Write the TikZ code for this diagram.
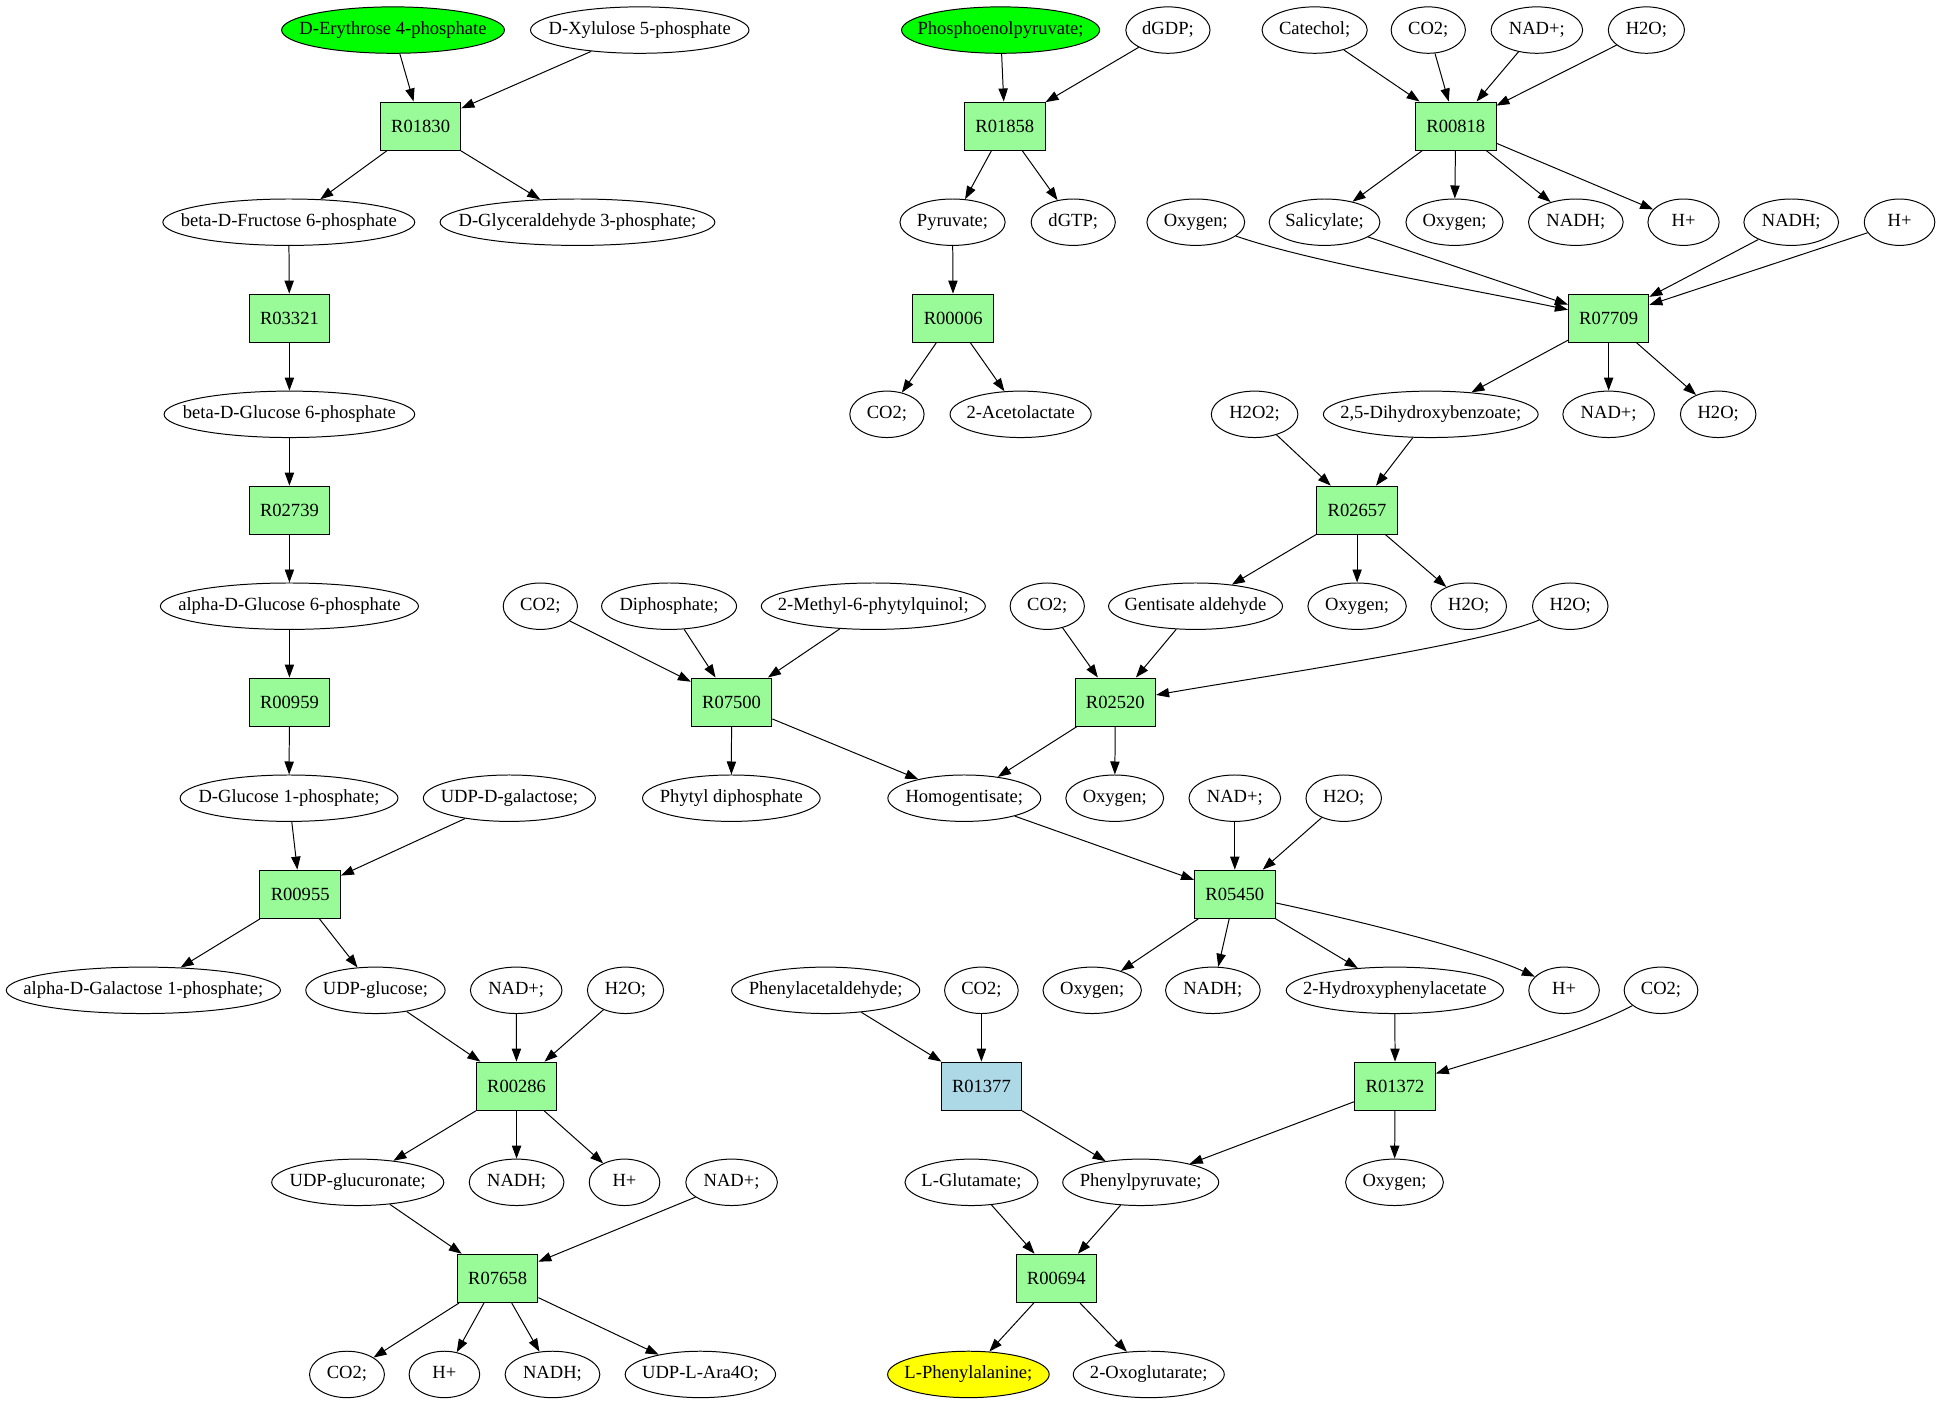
\documentclass[tikz,border=0pt]{standalone}
\usepackage{fontspec}
\setmainfont{Liberation Serif}
\usetikzlibrary{shapes.geometric,arrows.meta}
\definecolor{gvgreen}{HTML}{00FF00}
\definecolor{palegreen}{HTML}{98FB98}
\definecolor{lightblue}{HTML}{ADD8E6}
\definecolor{gvyellow}{HTML}{FFFF00}
\newcommand\mt[1]{\makebox[0pt][c]{\rule[-3pt]{0pt}{13pt}#1}}
\begin{document}
\begin{tikzpicture}[x=1pt,y=-1pt,
 every node/.style={font=\fontsize{15}{18}\selectfont, inner sep=0pt},
 met/.style={ellipse, draw, line width=0.8pt, minimum height=37.5pt, minimum width=#1},
 met/.default=60pt,
 rxn/.style={rectangle, draw, line width=0.8pt, fill=palegreen, minimum width=65pt, minimum height=39pt},
 arr/.style={draw, line width=0.8pt, -{Triangle[length=10.5pt,width=7.5pt]}},
]
\useasboundingbox[fill=white] (0,0) rectangle (1568,1133.4);

% row 1
\node[met=180pt, fill=gvgreen] (ery) at (317.5,24.3) {\mt{D-Erythrose 4-phosphate}};
\node[met=176.5pt] (xyl) at (516.8,24.3) {\mt{D-Xylulose 5-phosphate}};
\node[met=160pt, fill=gvgreen] (pep) at (808.3,24.3) {\mt{Phosphoenolpyruvate;}};
\node[met=68pt] (dgdp) at (943.5,24.3) {\mt{dGDP;}};
\node[met=85pt] (cat) at (1062,24.3) {\mt{Catechol;}};
\node[met=60pt] (co2a) at (1153.8,24.3) {\mt{CO2;}};
\node[met=74pt] (nadpa) at (1241.5,24.3) {\mt{NAD+;}};
\node[met=61.5pt] (h2oa) at (1330,24.3) {\mt{H2O;}};

\node[rxn] (r01830) at (339.8,101.9) {R01830};
\node[rxn] (r01858) at (811.7,101.9) {R01858};
\node[rxn] (r00818) at (1176,101.9) {R00818};

% row 2
\node[met=203.5pt] (fru) at (233.3,179.5) {\mt{beta-D-Fructose 6-phosphate}};
\node[met=222pt] (gap) at (466.5,179.5) {\mt{D-Glyceraldehyde 3-phosphate;}};
\node[met=85pt] (pyr) at (769.5,179.5) {\mt{Pyruvate;}};
\node[met=68pt] (dgtp) at (867,179.5) {\mt{dGTP;}};
\node[met=79pt] (oxa) at (966,179.5) {\mt{Oxygen;}};
\node[met=89.5pt] (sal) at (1070,179.5) {\mt{Salicylate;}};
\node[met=78.5pt] (oxb) at (1175,179.5) {\mt{Oxygen;}};
\node[met=76.5pt] (nadha) at (1273,179.5) {\mt{NADH;}};
\node[met=57.5pt] (hpa) at (1360,179.5) {\mt{H+}};
\node[met=76.5pt] (nadhb) at (1447,179.5) {\mt{NADH;}};
\node[met=57pt] (hpb) at (1534.5,179.5) {\mt{H+}};

\node[rxn] (r03321) at (233.8,257.1) {R03321};
\node[rxn] (r00006) at (770,257.1) {R00006};
\node[rxn] (r07709) at (1299.5,257.1) {R07709};

% row 3
\node[met=202.5pt] (glc6) at (233.8,334.7) {\mt{beta-D-Glucose 6-phosphate}};
\node[met=60pt] (co2b) at (716.5,334.7) {\mt{CO2;}};
\node[met=114pt] (acl) at (824.5,334.7) {\mt{2-Acetolactate}};
\node[met=70pt] (h2o2) at (1013.5,334.7) {\mt{H2O2;}};
\node[met=173.5pt] (dhb) at (1155.8,334.7) {\mt{2,5-Dihydroxybenzoate;}};
\node[met=74pt] (nadpb) at (1299.5,334.7) {\mt{NAD+;}};
\node[met=61pt] (h2ob) at (1388,334.7) {\mt{H2O;}};

\node[rxn] (r02739) at (233.8,412.2) {R02739};
\node[rxn] (r02657) at (1096.3,412.2) {R02657};

% row 4
\node[met=208.5pt] (aglc6) at (233.8,489.7) {\mt{alpha-D-Glucose 6-phosphate}};
\node[met=60pt] (co2c) at (436.5,489.7) {\mt{CO2;}};
\node[met=109pt] (dip) at (540.5,489.7) {\mt{Diphosphate;}};
\node[met=181pt] (mpq) at (705.5,489.7) {\mt{2-Methyl-6-phytylquinol;}};
\node[met=60pt] (co2d) at (846,489.7) {\mt{CO2;}};
\node[met=140.5pt] (gald) at (965.8,489.7) {\mt{Gentisate aldehyde}};
\node[met=79.5pt] (oxc) at (1096.3,489.7) {\mt{Oxygen;}};
\node[met=61pt] (h2oc) at (1186.5,489.7) {\mt{H2O;}};
\node[met=61pt] (h2od) at (1268.5,489.7) {\mt{H2O;}};

\node[rxn] (r00959) at (233.8,567.2) {R00959};
\node[rxn] (r07500) at (591,567.2) {R07500};
\node[rxn] (r02520) at (901,567.2) {R02520};

% row 5
\node[met=176pt] (glc1) at (233.5,644.8) {\mt{D-Glucose 1-phosphate;}};
\node[met=139pt] (udpgal) at (411.5,644.8) {\mt{UDP-D-galactose;}};
\node[met=143.5pt] (phy) at (590.8,644.8) {\mt{Phytyl diphosphate}};
\node[met=123.5pt] (hga) at (779,644.8) {\mt{Homogentisate;}};
\node[met=79pt] (oxd) at (900.5,644.8) {\mt{Oxygen;}};
\node[met=74pt] (nadpc) at (997.5,644.8) {\mt{NAD+;}};
\node[met=61pt] (h2oe) at (1085.5,644.8) {\mt{H2O;}};

\node[rxn] (r00955) at (242.5,722.4) {R00955};
\node[rxn] (r05450) at (997.5,722.4) {R05450};

% row 6
\node[met=221.5pt] (agal) at (115.8,800) {\mt{alpha-D-Galactose 1-phosphate;}};
\node[met=112.5pt] (udpglc) at (303.3,800) {\mt{UDP-glucose;}};
\node[met=74pt] (nadpd) at (417,800) {\mt{NAD+;}};
\node[met=61.5pt] (h2of) at (505.3,800) {\mt{H2O;}};
\node[met=152pt] (pacald) at (667,800) {\mt{Phenylacetaldehyde;}};
\node[met=59.5pt] (co2e) at (792.8,800) {\mt{CO2;}};
\node[met=79.5pt] (oxe) at (882.3,800) {\mt{Oxygen;}};
\node[met=76.5pt] (nadhc) at (979.8,800) {\mt{NADH;}};
\node[met=175.5pt] (hpac) at (1126.8,800) {\mt{2-Hydroxyphenylacetate}};
\node[met=57pt] (hpc) at (1263.5,800) {\mt{H+}};
\node[met=59.5pt] (co2f) at (1341.8,800) {\mt{CO2;}};

\node[rxn] (r00286) at (417.3,877.5) {R00286};
\node[rxn, fill=lightblue] (r01377) at (792.8,877.5) {R01377};
\node[rxn] (r01372) at (1127,877.5) {R01372};

% row 7
\node[met=139pt] (udpgla) at (289,955.1) {\mt{UDP-glucuronate;}};
\node[met=76.5pt] (nadhd) at (417.3,955.1) {\mt{NADH;}};
\node[met=57pt] (hpd) at (504.5,955.1) {\mt{H+}};
\node[met=74pt] (nadpe) at (591,955.1) {\mt{NAD+;}};
\node[met=107.5pt] (glu) at (784.8,955.1) {\mt{L-Glutamate;}};
\node[met=126pt] (ppyr) at (921.5,955.1) {\mt{Phenylpyruvate;}};
\node[met=79pt] (oxf) at (1126.5,955.1) {\mt{Oxygen;}};

\node[rxn] (r07658) at (402,1032.7) {R07658};
\node[rxn] (r00694) at (853.3,1032.7) {R00694};

% row 8
\node[met=60.5pt] (co2g) at (280.3,1110.3) {\mt{CO2;}};
\node[met=57pt] (hpe) at (359,1110.3) {\mt{H+}};
\node[met=76.5pt] (nadhe) at (446.3,1110.3) {\mt{NADH;}};
\node[met=121.5pt] (ara) at (565.8,1110.3) {\mt{UDP-L-Ara4O;}};
\node[met=130.5pt, fill=gvyellow] (phe) at (782.3,1110.3) {\mt{L-Phenylalanine;}};
\node[met=122pt] (oxg) at (928,1110.3) {\mt{2-Oxoglutarate;}};

% edges: left chain
\draw[arr] (ery) -- (r01830);
\draw[arr] (xyl) -- (r01830);
\draw[arr] (r01830) -- (fru);
\draw[arr] (r01830) -- (gap);
\draw[arr] (fru) -- (r03321);
\draw[arr] (r03321) -- (glc6);
\draw[arr] (glc6) -- (r02739);
\draw[arr] (r02739) -- (aglc6);
\draw[arr] (aglc6) -- (r00959);
\draw[arr] (r00959) -- (glc1);
\draw[arr] (glc1) -- (r00955);
\draw[arr] (udpgal) -- (r00955);
\draw[arr] (r00955) -- (agal);
\draw[arr] (r00955) -- (udpglc);
\draw[arr] (udpglc) -- (r00286);
\draw[arr] (nadpd) -- (r00286);
\draw[arr] (h2of) -- (r00286);
\draw[arr] (r00286) -- (udpgla);
\draw[arr] (r00286) -- (nadhd);
\draw[arr] (r00286) -- (hpd);
\draw[arr] (udpgla) -- (r07658);
\draw[arr] (nadpe) -- (r07658);
\draw[arr] (r07658) -- (co2g);
\draw[arr] (r07658) -- (hpe);
\draw[arr] (r07658) -- (nadhe);
\draw[arr] (r07658) -- (ara);

% pyruvate branch
\draw[arr] (pep) -- (r01858);
\draw[arr] (dgdp) -- (r01858);
\draw[arr] (r01858) -- (pyr);
\draw[arr] (r01858) -- (dgtp);
\draw[arr] (pyr) -- (r00006);
\draw[arr] (r00006) -- (co2b);
\draw[arr] (r00006) -- (acl);

% catechol branch
\draw[arr] (cat) -- (r00818);
\draw[arr] (co2a) -- (r00818);
\draw[arr] (nadpa) -- (r00818);
\draw[arr] (h2oa) -- (r00818);
\draw[arr] (r00818) -- (sal);
\draw[arr] (r00818) -- (oxb);
\draw[arr] (r00818) -- (nadha);
\draw[arr] (r00818) -- (hpa);
\draw[arr] (oxa) .. controls (1060,212) and (1180,232) .. (r07709);
\draw[arr] (sal) -- (r07709);
\draw[arr] (nadhb) -- (r07709);
\draw[arr] (hpb) -- (r07709);
\draw[arr] (r07709) -- (dhb);
\draw[arr] (r07709) -- (nadpb);
\draw[arr] (r07709) -- (h2ob);
\draw[arr] (h2o2) -- (r02657);
\draw[arr] (dhb) -- (r02657);
\draw[arr] (r02657) -- (gald);
\draw[arr] (r02657) -- (oxc);
\draw[arr] (r02657) -- (h2oc);
\draw[arr] (co2d) -- (r02520);
\draw[arr] (gald) -- (r02520);
\draw[arr] (h2od) .. controls (1200,520) and (1010,548) .. (r02520);
\draw[arr] (r02520) -- (hga);
\draw[arr] (r02520) -- (oxd);

% R07500
\draw[arr] (co2c) -- (r07500);
\draw[arr] (dip) -- (r07500);
\draw[arr] (mpq) -- (r07500);
\draw[arr] (r07500) -- (phy);
\draw[arr] (r07500) -- (hga);

% R05450
\draw[arr] (hga) -- (r05450);
\draw[arr] (nadpc) -- (r05450);
\draw[arr] (h2oe) -- (r05450);
\draw[arr] (r05450) -- (oxe);
\draw[arr] (r05450) -- (nadhc);
\draw[arr] (r05450) -- (hpac);
\draw[arr] (r05450) .. controls (1090,742) and (1195,768) .. (hpc);

% R01372 / R01377 / R00694
\draw[arr] (hpac) -- (r01372);
\draw[arr] (co2f) .. controls (1280,833) and (1205,853) .. (r01372);
\draw[arr] (r01372) -- (ppyr);
\draw[arr] (r01372) -- (oxf);
\draw[arr] (pacald) -- (r01377);
\draw[arr] (co2e) -- (r01377);
\draw[arr] (r01377) -- (ppyr);
\draw[arr] (glu) -- (r00694);
\draw[arr] (ppyr) -- (r00694);
\draw[arr] (r00694) -- (phe);
\draw[arr] (r00694) -- (oxg);
\end{tikzpicture}
\end{document}
